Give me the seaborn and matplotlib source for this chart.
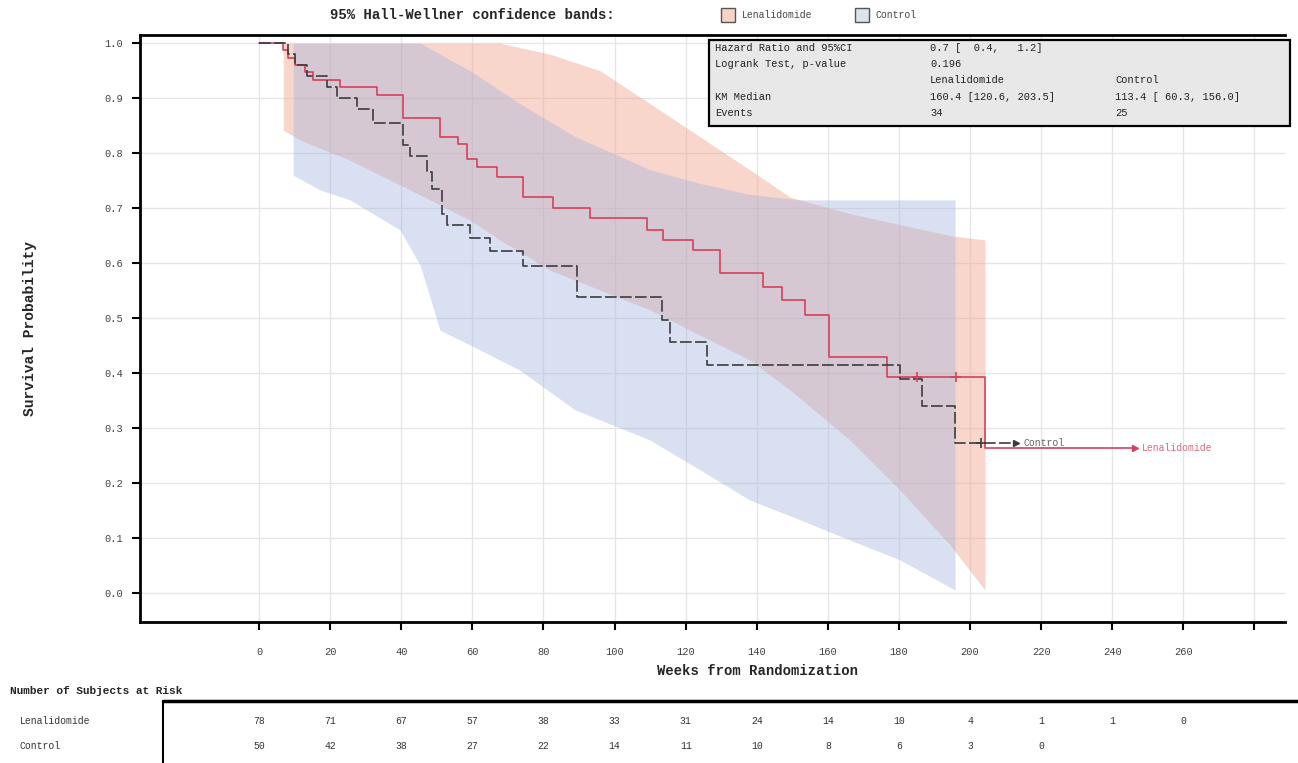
import numpy as np
import pandas as pd
import matplotlib
matplotlib.use('Agg')
import matplotlib.pyplot as plt
import matplotlib.transforms as mtransforms
from matplotlib.patches import Rectangle
import seaborn as sns

# --- Kaplan-Meier steps (weeks, survival after drop) ---
LEN_T = [0, 6.8, 8.2, 10.1, 12.9, 15.2, 22.8, 33.2, 40.5, 50.9, 56.0, 58.5, 61.3, 66.9,
         74.3, 82.7, 93.1, 109.1, 113.6, 122.1, 129.7, 141.8, 147.1, 153.6, 160.4,
         176.7, 204.2, 246.4]
LEN_S = [1.0, 0.987, 0.974, 0.961, 0.947, 0.933, 0.92, 0.906, 0.864, 0.829, 0.816, 0.789,
         0.775, 0.756, 0.72, 0.70, 0.682, 0.66, 0.642, 0.624, 0.582, 0.556, 0.533, 0.505,
         0.429, 0.393, 0.264, 0.264]
CTL_T = [0, 8.2, 10.1, 13.5, 19.1, 21.9, 27.6, 32.1, 40.5, 42.5, 47.3, 48.7, 51.5, 52.9,
         59.4, 65.0, 74.3, 89.5, 113.4, 115.6, 126.0, 180.3, 186.5, 195.8, 213.0]
CTL_S = [1.0, 0.98, 0.96, 0.94, 0.92, 0.90, 0.88, 0.855, 0.815, 0.795, 0.765, 0.735, 0.69,
         0.67, 0.646, 0.622, 0.594, 0.538, 0.497, 0.456, 0.415, 0.39, 0.34, 0.273, 0.273]

LEN_CENSOR_T = [185.0, 196.0]
LEN_CENSOR_S = [0.393, 0.393]
CTL_CENSOR_T = [203.0]
CTL_CENSOR_S = [0.273]

# --- Hall-Wellner bands ---
LEN_BAND_T = [6.8, 11.5, 25.6, 39.7, 48.1, 59.4, 67.8, 81.9, 95.9, 110, 124, 138, 149.4,
              166.2, 180.3, 194.4, 204.2]
LEN_BAND_HI = [1.0, 1.0, 1.0, 1.0, 1.0, 1.0, 1.0, 0.98, 0.95, 0.89, 0.83, 0.77,
               0.72, 0.69, 0.67, 0.65, 0.642]
LEN_BAND_LO = [0.842, 0.824, 0.787, 0.742, 0.715, 0.678, 0.642, 0.587, 0.551, 0.515, 0.469,
               0.424, 0.369, 0.278, 0.187, 0.087, 0.005]
CTL_BAND_T = [9.6, 17.2, 25.6, 39.7, 45.3, 50.9, 59.4, 73.4, 88.9, 110, 124, 138, 152.2,
              166.2, 180.3, 195.8]
CTL_BAND_HI = [1.0, 1.0, 1.0, 1.0, 1.0, 0.98, 0.95, 0.89, 0.83, 0.77, 0.745, 0.725,
               0.715, 0.715, 0.715, 0.715]
CTL_BAND_LO = [0.76, 0.733, 0.715, 0.66, 0.596, 0.478, 0.451, 0.405, 0.333, 0.278, 0.224,
               0.169, 0.133, 0.096, 0.06, 0.005]

# --- at-risk table ---
RISK_WEEKS = [0, 20, 40, 60, 80, 100, 120, 140, 160, 180, 200, 220, 240, 260]
LEN_RISK = [78, 71, 67, 57, 38, 33, 31, 24, 14, 10, 4, 1, 1, 0]
CTL_RISK = [50, 42, 38, 27, 22, 14, 11, 10, 8, 6, 3, 0]

XTICKS = [0, 20, 40, 60, 80, 100, 120, 140, 160, 180, 200, 220, 240, 260, 280]
XTICK_LABELS = ['0', '20', '40', '60', '80', '100', '120', '140', '160', '180', '200',
                '220', '240', '260', '']
YTICKS = [0.0, 0.1, 0.2, 0.3, 0.4, 0.5, 0.6, 0.7, 0.8, 0.9, 1.0]

STATS_ROWS = [
    ('Hazard Ratio and 95%CI', '0.7 [  0.4,   1.2]', ''),
    ('Logrank Test, p-value', '0.196', ''),
    ('', 'Lenalidomide', 'Control'),
    ('KM Median', '160.4 [120.6, 203.5]', '113.4 [ 60.3, 156.0]'),
    ('Events', '34', '25'),
]

RED = '#d6415c'
DARK = '#3c3c3c'
LEN_FILL = '#f2a48c'
CTL_FILL = '#9fb3e0'
MONO = ['Liberation Mono', 'DejaVu Sans Mono']

W, H = 1298, 763


def fx(px):
    return px / W


def fy(py):
    return 1 - py / H


def main():
    sns.set_theme(style='white')
    plt.rcParams['font.family'] = MONO

    fig = plt.figure(figsize=(W / 100, H / 100), dpi=100)
    ax = fig.add_axes([fx(140), fy(622), (1285 - 140) / W, (622 - 35) / H])

    # confidence bands: lenalidomide first, control on top
    ax.fill_between(LEN_BAND_T, LEN_BAND_LO, LEN_BAND_HI, color=LEN_FILL, alpha=0.45,
                    lw=0, zorder=1)
    ax.fill_between(CTL_BAND_T, CTL_BAND_LO, CTL_BAND_HI, color=CTL_FILL, alpha=0.4,
                    lw=0, zorder=1)

    km = pd.concat([
        pd.DataFrame({'week': LEN_T, 'surv': LEN_S, 'arm': 'Lenalidomide'}),
        pd.DataFrame({'week': CTL_T, 'surv': CTL_S, 'arm': 'Control'}),
    ])
    sns.lineplot(data=km, x='week', y='surv', hue='arm', style='arm',
                 palette={'Lenalidomide': RED, 'Control': DARK},
                 dashes={'Lenalidomide': '', 'Control': (7, 2)},
                 drawstyle='steps-post', estimator=None, sort=False,
                 linewidth=1.2, legend=False, ax=ax, zorder=3)

    ax.plot(LEN_CENSOR_T, LEN_CENSOR_S, ls='none', marker='+', ms=7, mew=1.2,
            color=RED, zorder=4)
    ax.plot(CTL_CENSOR_T, CTL_CENSOR_S, ls='none', marker='+', ms=7, mew=1.2,
            color=DARK, zorder=4)

    # curve-end labels
    ax.plot(LEN_T[-1], LEN_S[-1], marker='>', ms=4, color=RED, zorder=4)
    ax.text(LEN_T[-1] + 2, LEN_S[-1], 'Lenalidomide', color=RED, fontsize=7,
            va='center', ha='left', alpha=0.8)
    ax.plot(CTL_T[-1], CTL_S[-1], marker='>', ms=4, color=DARK, zorder=4)
    ax.text(CTL_T[-1] + 2, CTL_S[-1], 'Control', color=DARK, fontsize=7,
            va='center', ha='left', alpha=0.8)

    ax.set_xlim(-33.5, 288.6)
    ax.set_ylim(-0.053, 1.015)
    ax.set_xticks(XTICKS)
    ax.set_xticklabels(XTICK_LABELS)
    ax.set_yticks(YTICKS)
    ax.set_yticklabels([f'{v:.1f}' for v in YTICKS])
    ax.grid(True, color='#e6e6e6', lw=1)
    ax.set_axisbelow(True)
    ax.tick_params(axis='both', direction='out', length=6, width=1.5, color='black',
                   labelsize=7.5, labelcolor='#444444', left=True, bottom=True, pad=6)
    ax.tick_params(axis='x', pad=12)
    for sp in ax.spines.values():
        sp.set_color('black')
        sp.set_linewidth(2)
    ax.spines['right'].set_visible(False)

    ax.set_xlabel('Weeks from Randomization', fontsize=10, fontweight='bold')
    ax.xaxis.set_label_coords(0.539, -0.072)
    ax.set_ylabel('Survival Probability', fontsize=10.5, fontweight='bold')
    ax.yaxis.set_label_coords(-0.09, 0.5)

    # top legend
    fig.text(fx(330), fy(15), '95% Hall-Wellner confidence bands:', fontsize=10,
             fontweight='bold', va='center', ha='left')
    fig.add_artist(Rectangle((fx(721), fy(22)), 14 / W, 14 / H, transform=fig.transFigure,
                             facecolor='#f8d3c6', edgecolor='#555555', lw=1))
    fig.text(fx(742), fy(15), 'Lenalidomide', fontsize=7, va='center', color='#444444')
    fig.add_artist(Rectangle((fx(855), fy(22)), 14 / W, 14 / H, transform=fig.transFigure,
                             facecolor='#dde2ef', edgecolor='#555555', lw=1))
    fig.text(fx(876), fy(15), 'Control', fontsize=7, va='center', color='#444444')

    # statistics box
    fig.add_artist(Rectangle((fx(709), fy(126)), (1290 - 709) / W, (126 - 40) / H,
                             transform=fig.transFigure, facecolor='#e8e8e8',
                             edgecolor='black', lw=1.6, zorder=5))
    for i, (lab, v1, v2) in enumerate(STATS_ROWS):
        y = fy(48 + i * 16.2)
        fig.text(fx(715), y, lab, fontsize=7.5, va='center', zorder=6, color='#222222')
        fig.text(fx(930), y, v1, fontsize=7.5, va='center', zorder=6, color='#222222')
        fig.text(fx(1115), y, v2, fontsize=7.5, va='center', zorder=6, color='#222222')

    # at-risk table
    fig.text(fx(10), fy(691), 'Number of Subjects at Risk', fontsize=8, fontweight='bold',
             va='center')
    fig.add_artist(plt.Line2D([fx(163), 1], [fy(701), fy(701)], transform=fig.transFigure,
                              color='black', lw=2.5))
    fig.add_artist(plt.Line2D([fx(163), fx(163)], [fy(701), 0], transform=fig.transFigure,
                              color='black', lw=1.5))
    fig.text(fx(20), fy(721), 'Lenalidomide', fontsize=7, va='center', color='#333333')
    fig.text(fx(20), fy(746), 'Control', fontsize=7, va='center', color='#333333')
    trans = mtransforms.blended_transform_factory(ax.transData, fig.transFigure)
    for wk, n in zip(RISK_WEEKS, LEN_RISK):
        fig.text(wk, fy(721), str(n), transform=trans, fontsize=7, ha='center',
                 va='center', color='#333333')
    for wk, n in zip(RISK_WEEKS, CTL_RISK):
        fig.text(wk, fy(746), str(n), transform=trans, fontsize=7, ha='center',
                 va='center', color='#333333')

    fig.savefig('out.png', dpi=100)


if __name__ == '__main__':
    main()
